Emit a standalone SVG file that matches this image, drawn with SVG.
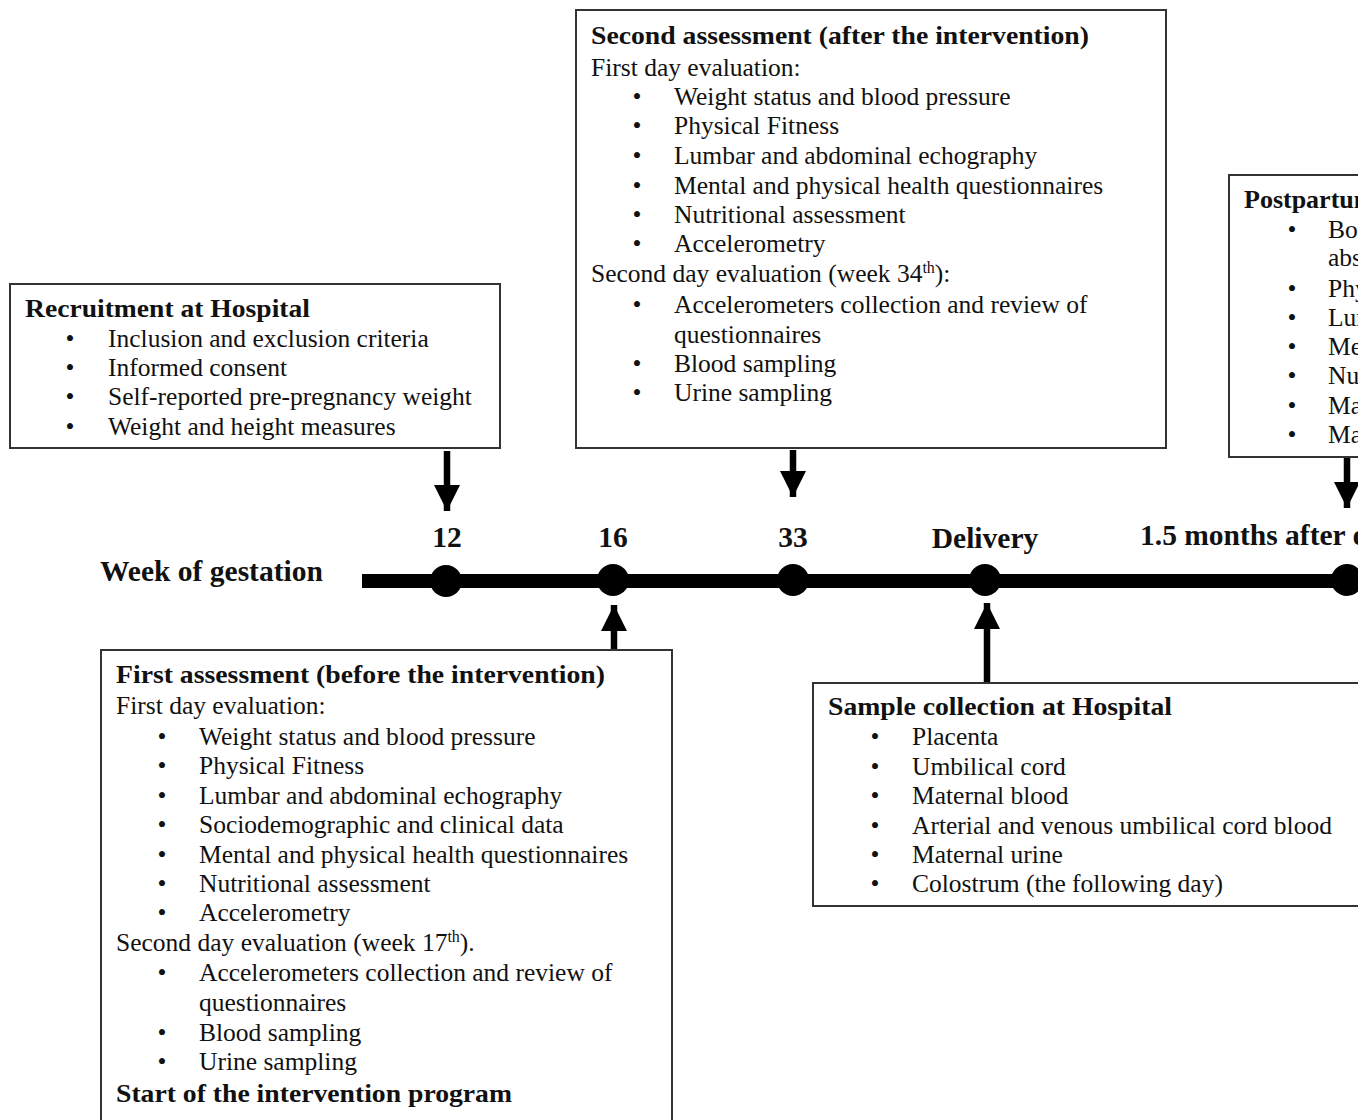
<svg xmlns="http://www.w3.org/2000/svg" width="1358" height="1120" viewBox="0 0 1358 1120">
<style>
.box{fill:#fff;stroke:#333;stroke-width:2}
text{font-family:"Liberation Serif","Times New Roman",serif;font-size:25.5px;fill:#111}
.b{font-weight:bold;font-size:26px}
.bl{text-anchor:middle}
.tl{font-family:"Liberation Serif","Times New Roman",serif;font-size:29.5px;font-weight:bold}
.sup{font-size:16px}
</style>
<defs>
<marker id="ah" viewBox="0 0 10 10" refX="10" refY="5" markerWidth="4" markerHeight="4" orient="auto" markerUnits="strokeWidth">
<path d="M0,0 L10,5 L0,10 z" fill="#000"/>
</marker>
</defs>

<g id="timeline">
<line x1="362" y1="581" x2="1358" y2="581" stroke="#000" stroke-width="14"/>
<circle cx="446" cy="581" r="16" fill="#000"/>
<circle cx="613" cy="580" r="16" fill="#000"/>
<circle cx="793" cy="580" r="16" fill="#000"/>
<circle cx="985" cy="580" r="16" fill="#000"/>
<circle cx="1347" cy="580" r="16" fill="#000"/>
<text class="tl" x="100" y="581">Week of gestation</text>
<text class="tl" x="447" y="547" text-anchor="middle">12</text>
<text class="tl" x="613" y="547" text-anchor="middle">16</text>
<text class="tl" x="793" y="547" text-anchor="middle">33</text>
<text class="tl" x="985" y="548" text-anchor="middle">Delivery</text>
<text class="tl" x="1140" y="545">1.5 months after delivery</text>
</g>

<g id="connectors" stroke="#000" stroke-width="6.5" fill="none">
<line x1="447" y1="451" x2="447" y2="511" marker-end="url(#ah)"/>
<line x1="793" y1="450" x2="793" y2="497" marker-end="url(#ah)"/>
<line x1="1347" y1="458" x2="1347" y2="508" marker-end="url(#ah)"/>
<line x1="614" y1="650" x2="614" y2="605" marker-end="url(#ah)"/>
<line x1="987" y1="683" x2="987" y2="603" marker-end="url(#ah)"/>
</g>

<g id="recruitment">
<rect class="box" x="10" y="284" width="490" height="164"/>
<text class="b" x="25" y="317" textLength="285" lengthAdjust="spacingAndGlyphs">Recruitment at Hospital</text>
<text class="bl" x="70" y="347">•</text><text x="108" y="347">Inclusion and exclusion criteria</text>
<text class="bl" x="70" y="376">•</text><text x="108" y="376">Informed consent</text>
<text class="bl" x="70" y="405">•</text><text x="108" y="405">Self-reported pre-pregnancy weight</text>
<text class="bl" x="70" y="435">•</text><text x="108" y="435">Weight and height measures</text>
</g>

<g id="second-assessment">
<rect class="box" x="576" y="10" width="590" height="438"/>
<text class="b" x="591" y="44" textLength="498" lengthAdjust="spacingAndGlyphs">Second assessment (after the intervention)</text>
<text x="591" y="76">First day evaluation:</text>
<text class="bl" x="637" y="105">•</text><text x="674" y="105">Weight status and blood pressure</text>
<text class="bl" x="637" y="134">•</text><text x="674" y="134">Physical Fitness</text>
<text class="bl" x="637" y="164">•</text><text x="674" y="164">Lumbar and abdominal echography</text>
<text class="bl" x="637" y="194">•</text><text x="674" y="194">Mental and physical health questionnaires</text>
<text class="bl" x="637" y="223">•</text><text x="674" y="223">Nutritional assessment</text>
<text class="bl" x="637" y="252">•</text><text x="674" y="252">Accelerometry</text>
<text x="591" y="282">Second day evaluation (week 34<tspan class="sup" dy="-9">th</tspan><tspan dy="9">):</tspan></text>
<text class="bl" x="637" y="313">•</text><text x="674" y="313">Accelerometers collection and review of</text>
<text x="674" y="343">questionnaires</text>
<text class="bl" x="637" y="372">•</text><text x="674" y="372">Blood sampling</text>
<text class="bl" x="637" y="401">•</text><text x="674" y="401">Urine sampling</text>
</g>

<g id="postpartum">
<rect class="box" x="1229" y="175" width="160" height="282"/>
<text class="b" x="1244" y="208">Postpartum assessment</text>
<text class="bl" x="1292" y="238">•</text><text x="1328" y="238">Body composition</text>
<text x="1328" y="266">absorptiometry</text>
<text class="bl" x="1292" y="297">•</text><text x="1328" y="297">Physical Fitness</text>
<text class="bl" x="1292" y="326">•</text><text x="1328" y="326">Lumbar</text>
<text class="bl" x="1292" y="355">•</text><text x="1328" y="355">Mental</text>
<text class="bl" x="1292" y="384">•</text><text x="1328" y="384">Nutritional</text>
<text class="bl" x="1292" y="414">•</text><text x="1328" y="414">Maternal</text>
<text class="bl" x="1292" y="443">•</text><text x="1328" y="443">Maternal</text>
</g>

<g id="first-assessment">
<rect class="box" x="101" y="650" width="571" height="480"/>
<text class="b" x="116" y="683" textLength="489" lengthAdjust="spacingAndGlyphs">First assessment (before the intervention)</text>
<text x="116" y="714">First day evaluation:</text>
<text class="bl" x="162" y="745">•</text><text x="199" y="745">Weight status and blood pressure</text>
<text class="bl" x="162" y="774">•</text><text x="199" y="774">Physical Fitness</text>
<text class="bl" x="162" y="804">•</text><text x="199" y="804">Lumbar and abdominal echography</text>
<text class="bl" x="162" y="833">•</text><text x="199" y="833">Sociodemographic and clinical data</text>
<text class="bl" x="162" y="863">•</text><text x="199" y="863">Mental and physical health questionnaires</text>
<text class="bl" x="162" y="892">•</text><text x="199" y="892">Nutritional assessment</text>
<text class="bl" x="162" y="921">•</text><text x="199" y="921">Accelerometry</text>
<text x="116" y="951">Second day evaluation (week 17<tspan class="sup" dy="-9">th</tspan><tspan dy="9">).</tspan></text>
<text class="bl" x="162" y="981">•</text><text x="199" y="981">Accelerometers collection and review of</text>
<text x="199" y="1011">questionnaires</text>
<text class="bl" x="162" y="1041">•</text><text x="199" y="1041">Blood sampling</text>
<text class="bl" x="162" y="1070">•</text><text x="199" y="1070">Urine sampling</text>
<text class="b" x="116" y="1102" textLength="396" lengthAdjust="spacingAndGlyphs">Start of the intervention program</text>
</g>

<g id="sample-collection">
<rect class="box" x="813" y="683" width="580" height="223"/>
<text class="b" x="828" y="715" textLength="344" lengthAdjust="spacingAndGlyphs">Sample collection at Hospital</text>
<text class="bl" x="875" y="745">•</text><text x="912" y="745">Placenta</text>
<text class="bl" x="875" y="775">•</text><text x="912" y="775">Umbilical cord</text>
<text class="bl" x="875" y="804">•</text><text x="912" y="804">Maternal blood</text>
<text class="bl" x="875" y="834">•</text><text x="912" y="834">Arterial and venous umbilical cord blood</text>
<text class="bl" x="875" y="863">•</text><text x="912" y="863">Maternal urine</text>
<text class="bl" x="875" y="892">•</text><text x="912" y="892">Colostrum (the following day)</text>
</g>
</svg>
